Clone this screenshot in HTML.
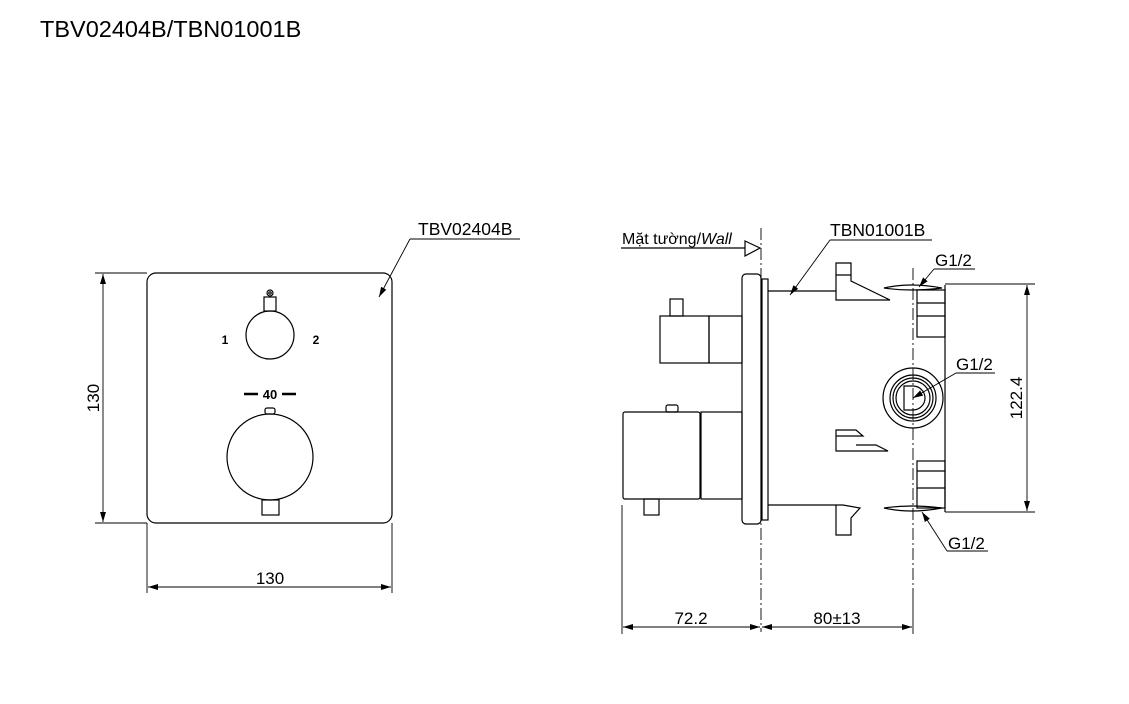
<!DOCTYPE html>
<html><head><meta charset="utf-8"><style>
html,body{margin:0;padding:0;background:#fff;}
svg{display:block;}
text{font-family:"Liberation Sans",Arial,sans-serif;fill:#000;}
</style></head><body>
<svg width="1129" height="704" viewBox="0 0 1129 704" xmlns="http://www.w3.org/2000/svg">
<defs>
<marker id="a" viewBox="0 0 10 6" refX="10" refY="3" markerWidth="10" markerHeight="6" markerUnits="userSpaceOnUse" orient="auto-start-reverse"><path d="M0,0L10,3L0,6z" fill="#000"/></marker>
</defs>
<text x="40" y="37" font-size="23.5">TBV02404B/TBN01001B</text>
<g fill="none" stroke="#000" stroke-width="1.2">
<rect x="147" y="273" width="245" height="250" rx="9"/>
<circle cx="270" cy="335" r="24"/>
<rect x="264" y="297" width="12" height="14"/>
<circle cx="270" cy="293" r="3"/>
<circle cx="270" cy="293" r="1.2"/>
<circle cx="270" cy="457" r="43"/>
<rect x="265" y="408" width="10" height="6" rx="2"/>
<rect x="262" y="500" width="17" height="15"/>
<path d="M244,394h14M282,394h14" stroke-width="2.5"/>
<path d="M95,273H147M95,523H147M147,523V593M392,523V593" stroke-width="0.9"/>
<path d="M103,274V522" marker-start="url(#a)" marker-end="url(#a)" stroke-width="0.9"/>
<path d="M148,587H391" marker-start="url(#a)" marker-end="url(#a)" stroke-width="0.9"/>
<path d="M410,239H520" stroke-width="0.9"/>
<path d="M410,239L379,297" marker-end="url(#a)" stroke-width="0.9"/>
<path d="M761,228V632" stroke-dasharray="12,3,2,3" stroke-width="0.9"/>
<path d="M913,268V600" stroke-dasharray="12,3,2,3" stroke-width="0.9"/>
<path d="M621,248H745"/>
<path d="M745,241L760,248L745,256z"/>
<rect x="742" y="274" width="19" height="250" rx="4"/>
<rect x="762" y="279" width="6" height="241"/>
<path d="M768,291H836M768,505H843"/>
<rect x="660" y="316" width="49" height="47"/>
<rect x="709" y="316" width="33" height="47"/>
<rect x="670" y="299" width="13" height="17"/>
<rect x="623" y="412" width="77" height="87" rx="2"/>
<rect x="701" y="412" width="41" height="87"/>
<rect x="666" y="405" width="12" height="7" rx="2"/>
<rect x="644" y="499" width="15" height="16"/>
<path d="M836,263H851V275H836ZM836,275V300H890L851,281V275"/>
<path d="M836,430H856L863,436H836ZM836,430V451H888L876,445H856"/>
<path d="M836,505V535H851V518L860,508L843,505"/>
<path d="M884,288Q910,282 942,288Q910,292 884,288Z"/>
<path d="M884,508Q910,504 942,508Q910,514 884,508Z"/>
<rect x="917" y="290" width="28" height="47"/>
<path d="M917,303H945M917,316H945"/>
<rect x="917" y="461" width="28" height="47"/>
<path d="M917,471H945M917,488H945"/>
<path d="M945,285V512"/>
<circle cx="913" cy="398" r="30"/>
<circle cx="913" cy="398" r="23"/>
<circle cx="913" cy="398" r="20"/>
<circle cx="913" cy="398" r="17"/>
<path d="M904,386H913A12,12 0 0 1 913,410H904Z"/>
<path d="M830,240H932" stroke-width="0.9"/>
<path d="M830,240L790,295" marker-end="url(#a)" stroke-width="0.9"/>
<path d="M934,269H975" stroke-width="0.9"/>
<path d="M934,269L919,287" marker-end="url(#a)" stroke-width="0.9"/>
<path d="M956,373H995" stroke-width="0.9"/>
<path d="M956,373L913,398" marker-end="url(#a)" stroke-width="0.9"/>
<path d="M947,551H988" stroke-width="0.9"/>
<path d="M947,551L922,512" marker-end="url(#a)" stroke-width="0.9"/>
<path d="M945,284H1035M945,512H1035" stroke-width="0.9"/>
<path d="M1027,285V511" marker-start="url(#a)" marker-end="url(#a)" stroke-width="0.9"/>
<path d="M622,505V634M913,600V634" stroke-width="0.9"/>
<path d="M623,627H760" marker-start="url(#a)" marker-end="url(#a)" stroke-width="0.9"/>
<path d="M762,627H912" marker-start="url(#a)" marker-end="url(#a)" stroke-width="0.9"/>
</g>
<text x="225" y="344" font-size="12" font-weight="bold" text-anchor="middle">1</text>
<text x="316" y="344" font-size="12" font-weight="bold" text-anchor="middle">2</text>
<text x="270" y="399" font-size="13" font-weight="bold" text-anchor="middle">40</text>
<text x="418" y="235" font-size="17.5">TBV02404B</text>
<text x="270" y="584" font-size="17" text-anchor="middle">130</text>
<text transform="translate(99,398) rotate(-90)" font-size="17" text-anchor="middle">130</text>
<text x="622" y="244" font-size="16">Mặt tường/<tspan font-style="italic">Wall</tspan></text>
<text x="830" y="236" font-size="17.5">TBN01001B</text>
<text x="935" y="266" font-size="17">G1/2</text>
<text x="956" y="370" font-size="17">G1/2</text>
<text x="948" y="549" font-size="17">G1/2</text>
<text transform="translate(1022,398) rotate(-90)" font-size="17" text-anchor="middle">122.4</text>
<text x="691" y="624" font-size="17" text-anchor="middle">72.2</text>
<text x="837" y="624" font-size="17" text-anchor="middle">80±13</text>
</svg>
</body></html>
